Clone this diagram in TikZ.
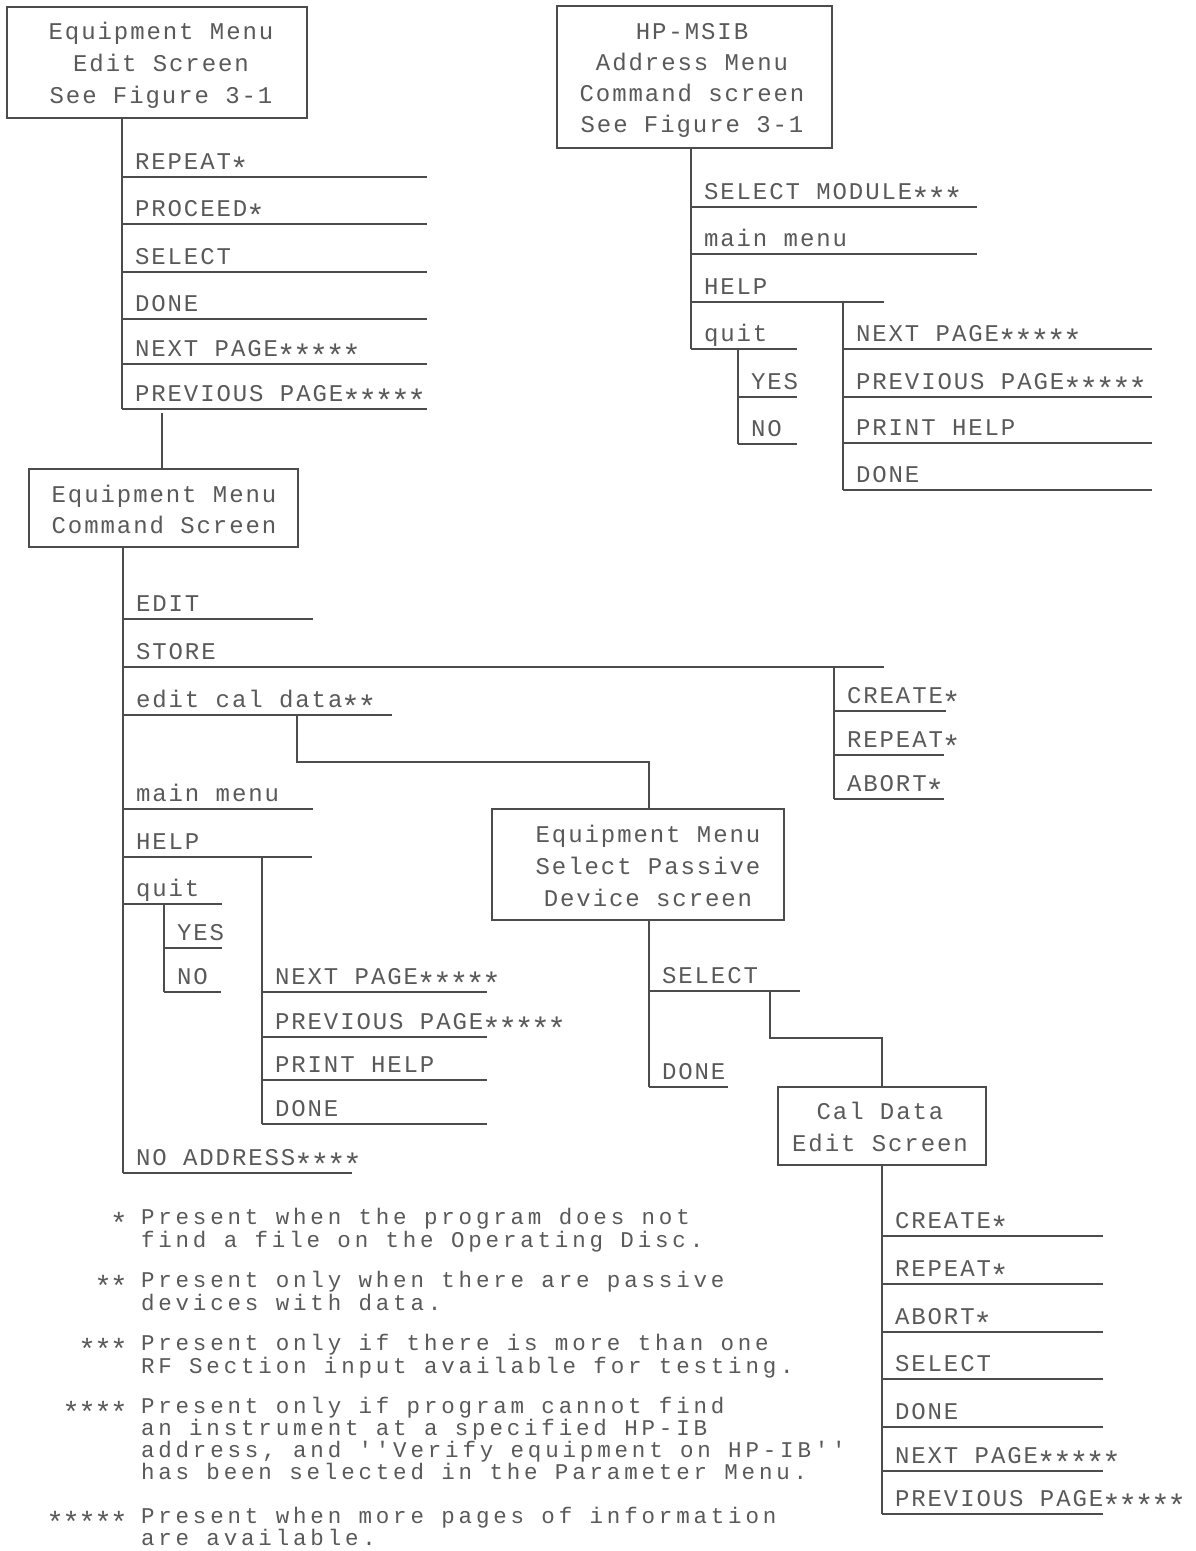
\documentclass[tikz,border=0pt]{standalone}
\usepackage{fontspec}
\usepackage{graphicx}
\newfontfamily\plotfont{Liberation Mono}[LetterSpace=8]
\newfontfamily\notefont{Liberation Mono}[LetterSpace=17]
% asterisk drawn as a lowered, enlarged star in one character cell
\newcommand\st{\makebox[0.68em]{\raisebox{-0.4em}{\scalebox{1.3}{*}}}}
\newcommand\stn{\makebox[0.71em]{\raisebox{-0.4em}{\scalebox{1.3}{*}}}}
\tikzset{
  ln/.style={line width=1.1pt, draw=black!70},
  box/.style={ln, rectangle, inner sep=0pt, outer sep=0pt},
  lbl/.style={font=\plotfont\fontsize{24}{32}\selectfont, text=black!65, inner sep=0pt, outer sep=0pt},
  note/.style={font=\notefont\fontsize{22.5}{22}\selectfont, text=black!65, inner sep=0pt, outer sep=0pt,
    text height=0.68em, text depth=0.2em, anchor=base west},
}
% menu item: name, x0, x1, y, text
\newcommand\mi[5]{%
  \coordinate (#1a) at (#2,#4);
  \coordinate (#1b) at (#3,#4);
  \draw[ln] (#1a) -- (#1b);
  \node[lbl, anchor=base west] (#1) at ({#2+13},{#4-7.5}) {#5};}
\begin{document}
\begin{tikzpicture}[x=1pt,y=-1pt]
\useasboundingbox (0,0) rectangle (1195,1551);

% ---------- Equipment Menu Edit Screen ----------
\node[box, minimum width=300pt, minimum height=111pt] (b1) at (157,62.5) {};
\node[lbl, anchor=base] (b1t1) at (161,39) {Equipment Menu};
\node[lbl, anchor=base] (b1t2) at (161,71) {Edit Screen};
\node[lbl, anchor=base] (b1t3) at (161,103) {See Figure 3-1};
\mi{e1}{122}{427}{177}{REPEAT\st}
\mi{e2}{122}{427}{224}{PROCEED\st}
\mi{e3}{122}{427}{272}{SELECT}
\mi{e4}{122}{427}{319}{DONE}
\mi{e5}{122}{427}{364}{NEXT PAGE\st\st\st\st\st}
\mi{e6}{122}{427}{409}{PREVIOUS PAGE\st\st\st\st\st}
\draw[ln] (b1.south -| e6a) -- (e6a);

% ---------- Equipment Menu Command Screen ----------
\node[box, minimum width=269pt, minimum height=78pt] (b2) at (163.5,508) {};
\node[lbl, anchor=base] (b2t1) at (164,502) {Equipment Menu};
\node[lbl, anchor=base] (b2t2) at (164,533) {Command Screen};
\coordinate (c12) at (162,413);
\draw[ln] (c12) -- (c12 |- b2.north);

\mi{c1}{123}{313}{619}{EDIT}
\mi{c2}{123}{884}{667}{STORE}
\mi{c3}{123}{392}{715}{edit cal data\st\st}
\mi{c4}{123}{313}{809}{main menu}
\mi{c5}{123}{312}{857}{HELP}
\mi{c6}{123}{222}{904}{quit}
\mi{c7}{123}{352}{1173}{NO ADDRESS\st\st\st\st}
\draw[ln] (b2.south -| c7a) -- (c7a);

% quit sub-menu
\coordinate (q0) at (164,904);
\mi{q1}{164}{222}{948}{YES}
\mi{q2}{164}{221}{992}{NO}
\draw[ln] (q0) -- (q2a);

% HELP sub-menu
\coordinate (h0) at (262,857);
\mi{h1}{262}{487}{992}{NEXT PAGE\st\st\st\st\st}
\mi{h2}{262}{487}{1037}{PREVIOUS PAGE\st\st\st\st\st}
\mi{h3}{262}{487}{1080}{PRINT HELP}
\mi{h4}{262}{487}{1124}{DONE}
\draw[ln] (h0) -- (h4a);

% STORE sub-menu
\coordinate (s0) at (834,667);
\mi{s1}{834}{946}{711}{CREATE\st}
\mi{s2}{834}{944}{755}{REPEAT\st}
\mi{s3}{834}{944}{799}{ABORT\st}
\draw[ln] (s0) -- (s3a);

% ---------- Select Passive Device screen ----------
\node[box, minimum width=292pt, minimum height=111pt] (b3) at (638,864.5) {};
\node[lbl, anchor=base] (b3t1) at (648,842) {Equipment Menu};
\node[lbl, anchor=base] (b3t2) at (648,874) {Select Passive};
\node[lbl, anchor=base] (b3t3) at (648,906) {Device screen};
\coordinate (k0) at (297,715);
\coordinate (k1) at (297,762);
\coordinate (p0) at (649,920);
\draw[ln] (k0) -- (k1) -- (k1 -| p0) -- (p0 |- b3.north);

\mi{p1}{649}{800}{991}{SELECT}
\mi{p2}{649}{728}{1087}{DONE}
\draw[ln] (b3.south -| p2a) -- (p2a);

% ---------- Cal Data Edit Screen ----------
\node[box, minimum width=208pt, minimum height=78pt] (b4) at (882,1126) {};
\node[lbl, anchor=base] (b4t1) at (880,1119) {Cal Data};
\node[lbl, anchor=base] (b4t2) at (880,1151) {Edit Screen};
\coordinate (m0) at (770,991);
\coordinate (m1) at (770,1038);
\draw[ln] (m0) -- (m1) -- (m1 -| b4.north) -- (b4.north);

\mi{r1}{882}{1103}{1236}{CREATE\st}
\mi{r2}{882}{1103}{1284}{REPEAT\st}
\mi{r3}{882}{1103}{1332}{ABORT\st}
\mi{r4}{882}{1103}{1379}{SELECT}
\mi{r5}{882}{1103}{1427}{DONE}
\mi{r6}{882}{1103}{1471}{NEXT PAGE\st\st\st\st\st}
\mi{r7}{882}{1103}{1514}{PREVIOUS PAGE\st\st\st\st\st}
\draw[ln] (b4.south) -- (r7a);

% ---------- HP-MSIB Address Menu ----------
\node[box, minimum width=275pt, minimum height=142pt] (b5) at (694.5,77) {};
\node[lbl, anchor=base] (b5t1) at (692,39) {HP-MSIB};
\node[lbl, anchor=base] (b5t2) at (692,70) {Address Menu};
\node[lbl, anchor=base] (b5t3) at (692,101) {Command screen};
\node[lbl, anchor=base] (b5t4) at (692,132) {See Figure 3-1};
\mi{u1}{691}{977}{207}{SELECT MODULE\st\st\st}
\mi{u2}{691}{977}{254}{main menu}
\mi{u3}{691}{884}{302}{HELP}
\mi{u4}{691}{797}{349}{quit}
\draw[ln] (b5.south -| u4a) -- (u4a);

\coordinate (v0) at (738,349);
\mi{v1}{738}{797}{397}{YES}
\mi{v2}{738}{797}{444}{NO}
\draw[ln] (v0) -- (v2a);

\coordinate (w0) at (843,302);
\mi{w1}{843}{1152}{349}{NEXT PAGE\st\st\st\st\st}
\mi{w2}{843}{1152}{397}{PREVIOUS PAGE\st\st\st\st\st}
\mi{w3}{843}{1152}{443}{PRINT HELP}
\mi{w4}{843}{1152}{490}{DONE}
\draw[ln] (w0) -- (w4a);

% ---------- Footnotes ----------
\node[note, anchor=base east] (f1m) at (127,1224) {\stn};
\node[note] (f1a) at (141,1224) {Present when the program does not};
\node[note] (f1b) at (141,1247) {find a file on the Operating Disc.};

\node[note, anchor=base east] (f2m) at (127,1287) {\stn\stn};
\node[note] (f2a) at (141,1287) {Present only when there are passive};
\node[note] (f2b) at (141,1310) {devices with data.};

\node[note, anchor=base east] (f3m) at (127,1350) {\stn\stn\stn};
\node[note] (f3a) at (141,1350) {Present only if there is more than one};
\node[note] (f3b) at (141,1373) {RF Section input available for testing.};

\node[note, anchor=base east] (f4m) at (127,1413) {\stn\stn\stn\stn};
\node[note] (f4a) at (141,1413) {Present only if program cannot find};
\node[note] (f4b) at (141,1435) {an instrument at a specified HP-IB};
\node[note] (f4c) at (141,1457) {address, and ''Verify equipment on HP-IB''};
\node[note] (f4d) at (141,1479) {has been selected in the Parameter Menu.};

\node[note, anchor=base east] (f5m) at (127,1523) {\stn\stn\stn\stn\stn};
\node[note] (f5a) at (141,1523) {Present when more pages of information};
\node[note] (f5b) at (141,1545) {are available.};
\end{tikzpicture}
\end{document}
